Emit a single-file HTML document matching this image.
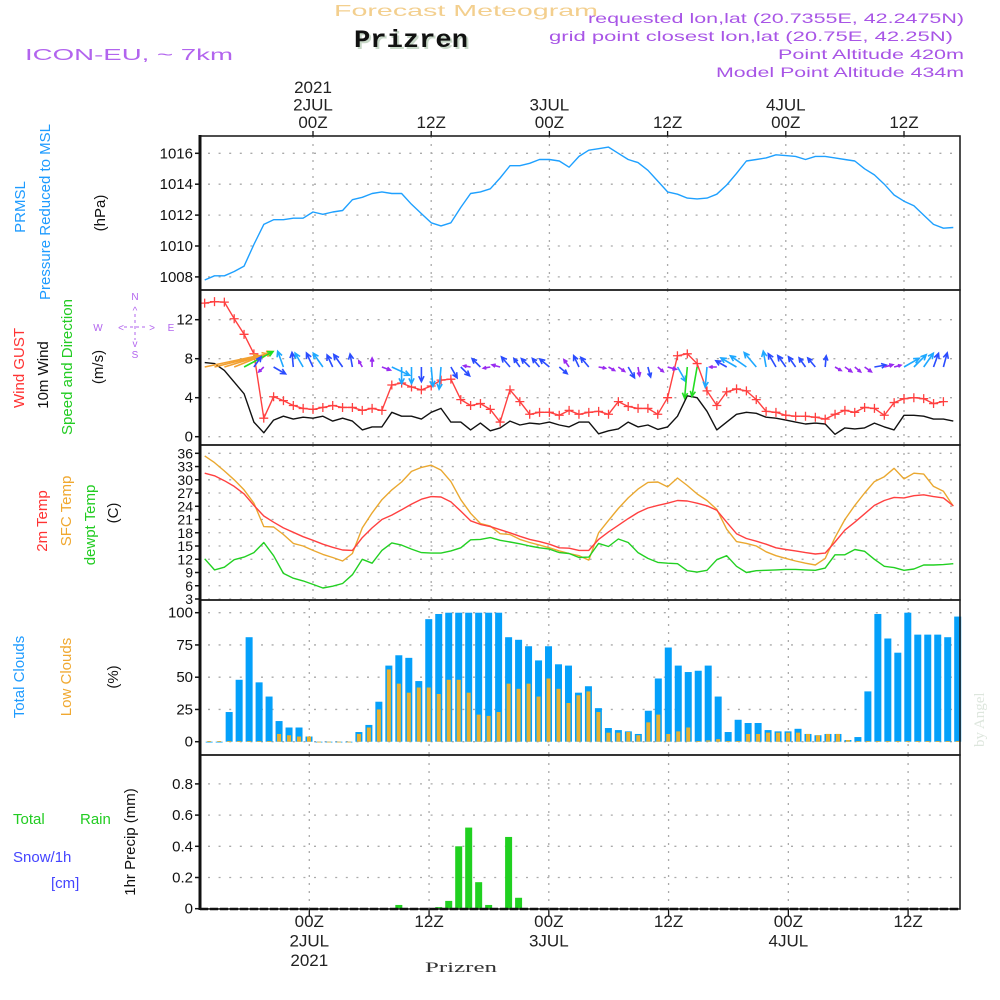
<!DOCTYPE html>
<html><head><meta charset="utf-8"><style>
html,body{margin:0;padding:0;background:#fff;}
svg{display:block;font-family:"Liberation Sans",sans-serif;}
</style></head><body>
<svg id="chart" xmlns="http://www.w3.org/2000/svg" width="1000" height="1000" viewBox="0 0 1000 1000">
<rect width="1000" height="1000" fill="#fff"/>
<text x="334" y="16" fill="#f3cf8e" font-size="16" textLength="264" lengthAdjust="spacingAndGlyphs">Forecast Meteogram</text>
<text x="356" y="49" fill="#c8d8c8" font-size="25" font-weight="bold" font-family="Liberation Mono, monospace" textLength="114" lengthAdjust="spacingAndGlyphs">Prizren</text>
<text x="354" y="47" fill="#111" font-size="25" font-weight="bold" font-family="Liberation Mono, monospace" textLength="114" lengthAdjust="spacingAndGlyphs">Prizren</text>
<text x="25" y="60" fill="#b264ee" font-size="16" textLength="208" lengthAdjust="spacingAndGlyphs">ICON-EU, ~ 7km</text>
<g fill="#a855e6" font-size="14">
<text x="588" y="23" textLength="376" lengthAdjust="spacingAndGlyphs">requested lon,lat (20.7355E, 42.2475N)</text>
<text x="549" y="41" textLength="404" lengthAdjust="spacingAndGlyphs">grid point closest lon,lat (20.75E, 42.25N)</text>
<text x="778" y="59" textLength="186" lengthAdjust="spacingAndGlyphs">Point Altitude 420m</text>
<text x="716" y="77" textLength="248" lengthAdjust="spacingAndGlyphs">Model Point Altitude 434m</text>
</g>
<text x="425" y="972" font-family="Liberation Serif, serif" font-size="15" fill="#333" textLength="72" lengthAdjust="spacingAndGlyphs">Prizren</text>
<text transform="translate(984,747) rotate(-90)" font-family="Liberation Serif, serif" font-size="15" fill="#dde6dd">by Angel</text>
<g font-size="15" text-anchor="middle">
<text transform="translate(25,207) rotate(-90)" fill="#1e9bff">PRMSL</text>
<text transform="translate(50,212) rotate(-90)" fill="#1e9bff">Pressure Reduced to MSL</text>
<text transform="translate(105,213) rotate(-90)" fill="#111">(hPa)</text>
<text transform="translate(24,368) rotate(-90)" fill="#ff3333">Wind GUST</text>
<text transform="translate(48,375) rotate(-90)" fill="#111">10m Wind</text>
<text transform="translate(72,367) rotate(-90)" fill="#22cc22">Speed and Direction</text>
<text transform="translate(103,367) rotate(-90)" fill="#111">(m/s)</text>
<text transform="translate(47,521) rotate(-90)" fill="#ff3333">2m Temp</text>
<text transform="translate(71,511) rotate(-90)" fill="#f0a830">SFC Temp</text>
<text transform="translate(95,525) rotate(-90)" fill="#22cc22">dewpt Temp</text>
<text transform="translate(118,513) rotate(-90)" fill="#111">(C)</text>
<text transform="translate(24,677) rotate(-90)" fill="#1e9bff">Total Clouds</text>
<text transform="translate(71,677) rotate(-90)" fill="#f0a830">Low Clouds</text>
<text transform="translate(118,677) rotate(-90)" fill="#111">(%)</text>
<text transform="translate(135,842) rotate(-90)" fill="#111">1hr Precip (mm)</text>
</g>
<g font-size="15">
<text x="13" y="824" fill="#22cc22">Total</text>
<text x="80" y="824" fill="#22cc22">Rain</text>
<text x="13" y="862" fill="#4444ff">Snow/1h</text>
<text x="51" y="888" fill="#4444ff">[cm]</text>
</g>
<g fill="#b264ee" stroke="#b264ee" font-size="10" text-anchor="middle">
<text x="135" y="300" stroke="none">N</text>
<text x="135" y="358" stroke="none">S</text>
<text x="98" y="331" stroke="none">W</text>
<text x="171" y="331" stroke="none">E</text>
<text x="121" y="331" stroke="none">&lt;</text>
<text x="152" y="331" stroke="none">&gt;</text>
<text x="135" y="314" stroke="none">^</text>
<text x="135" y="347" stroke="none">v</text>
<line x1="124" y1="327" x2="148" y2="327" stroke-dasharray="3,3"/>
<line x1="135" y1="314" x2="135" y2="340" stroke-dasharray="3,3"/>
</g>
<g id="plot"></g>
</svg>
<script>
const timeLabels = ["00Z","12Z","00Z","12Z","00Z","12Z"];
const dayLabels = ["2JUL","","3JUL","","4JUL",""];
const pressureTicks = [1008,1010,1012,1014,1016];
const windTicks = [0,4,8,12];
const tempTicks = [3,6,9,12,15,18,21,24,27,30,33,36];
const cloudTicks = [0,25,50,75,100];
const precipTicks = [0,0.2,0.4,0.6,0.8];
const pressure = [1007.8,1008.07,1008.07,1008.35,1008.7,1010.1,1011.4,1011.7,1011.7,1011.8,1011.8,1012.2,1012.05,1012.2,1012.3,1013.0,1013.15,1013.4,1013.5,1013.4,1013.4,1012.7,1012.1,1011.5,1011.3,1011.5,1012.5,1013.4,1013.5,1013.7,1014.4,1015.2,1015.2,1015.35,1015.6,1015.6,1015.5,1015.1,1015.8,1016.2,1016.3,1016.4,1016.0,1015.6,1015.4,1014.9,1014.2,1013.5,1013.35,1013.1,1013.05,1013.1,1013.35,1013.95,1014.7,1015.5,1015.6,1015.7,1015.9,1015.85,1015.8,1015.6,1015.8,1015.8,1015.7,1015.6,1015.5,1015.0,1014.6,1014.0,1013.3,1012.9,1012.6,1012.0,1011.4,1011.15,1011.2];
const windGust = [13.7,13.85,13.8,12.1,10.5,8.5,1.9,4.1,3.7,3.2,2.9,2.8,3.0,3.2,3.0,3.0,2.7,2.9,2.7,5.3,5.5,5.1,4.8,5.2,5.8,5.9,3.8,3.2,3.4,2.8,1.5,4.8,3.6,2.3,2.5,2.5,2.2,2.7,2.3,2.5,2.6,2.3,3.6,3.1,2.9,2.9,2.3,4.0,8.3,8.5,7.5,4.7,3.2,4.6,4.9,4.7,3.8,2.6,2.5,2.2,2.1,2.1,2.0,1.8,2.3,2.7,2.5,3.0,2.9,2.2,3.5,3.9,4.0,3.9,3.4,3.6];
const windSpeed = [7.6,7.5,6.8,5.6,4.4,1.5,0.4,1.7,2.1,1.8,2.0,1.9,2.1,1.6,1.9,1.6,0.7,1.0,1.0,2.5,2.1,2.1,1.8,2.5,2.9,1.5,1.5,0.7,1.4,0.6,0.9,1.6,1.2,1.4,1.3,1.5,1.2,1.0,1.5,1.5,0.3,0.6,0.8,1.5,1.0,1.2,0.75,1.0,2.1,4.2,4.0,2.6,0.7,1.5,2.3,2.5,2.4,2.0,1.9,1.7,1.5,1.3,1.4,1.3,0.25,0.9,0.8,0.9,1.4,1.0,0.7,2.2,2.2,2.1,1.8,1.8,1.6];
const windDir = [12,14,17,22,28,55,225,-30,110,95,120,115,125,115,125,100,120,90,-20,-25,-90,-90,-90,-85,-95,-60,-45,170,135,190,165,130,125,135,130,140,-40,125,115,130,-10,-30,-35,-60,-80,-75,-40,-15,-60,-95,-100,-95,180,150,150,145,130,100,120,125,125,125,130,85,-30,-35,-40,-35,10,15,15,30,45,55,70,75,10];
const temp2m = [31.5,30.9,29.8,28.5,26.8,24.2,21.8,20.4,19.1,18.1,17.1,16.3,15.4,14.7,14.1,14.0,16.9,19.1,21.0,22.0,23.2,24.5,25.6,26.2,26.1,25.0,22.9,20.7,19.9,19.4,18.7,18.0,17.2,16.5,16.0,15.4,14.6,14.5,14.0,14.0,16.5,18.2,19.7,21.2,22.6,23.6,24.2,24.7,25.3,25.2,24.7,24.1,23.1,20.4,17.8,16.7,16.1,15.4,14.6,14.2,13.9,13.5,13.2,13.4,15.9,18.6,20.4,22.3,24.2,25.3,26.0,25.9,26.4,26.6,26.2,25.9,24.1];
const tempSfc = [35.4,33.9,32.0,30.0,27.7,24.7,19.4,19.3,17.6,15.6,15.0,14.0,13.1,12.4,11.6,13.3,19.1,22.5,25.5,27.7,29.5,31.9,32.8,33.3,32.2,29.6,25.5,22.4,20.1,19.5,17.8,17.6,16.5,15.8,15.2,14.6,13.9,13.3,12.8,11.8,18.0,20.8,23.5,25.9,27.9,29.4,29.5,28.4,30.4,28.7,26.8,25.3,23.3,18.8,16.0,15.6,15.0,13.7,12.8,12.2,11.6,11.1,10.7,12.2,16.9,21.0,24.2,27.0,29.6,30.7,32.6,30.2,31.5,31.3,28.5,27.4,24.0];
const tempDew = [12.1,9.6,10.2,11.9,12.5,13.5,15.8,12.8,8.8,7.7,7.1,6.3,5.5,5.9,6.5,8.5,12.0,11.1,14.0,15.7,15.2,14.3,13.5,13.4,13.4,13.9,14.6,16.4,16.5,16.9,16.3,15.9,15.5,15.0,14.6,14.3,13.5,13.3,12.4,12.5,15.6,14.9,16.6,15.8,13.5,12.2,11.3,11.1,11.0,9.4,9.1,9.5,11.9,12.8,10.4,9.0,9.4,9.5,9.6,9.7,9.7,9.6,9.5,10.0,13.0,13.0,14.2,13.8,12.0,10.4,10.1,9.5,9.8,10.7,10.7,10.8,11.0];
const totalClouds = [0,0,23,48,81,46,35,16,11,11,4,0,0,0,0,7.5,13,31,59,67,65,47,95,99,100,100,100,100,100,100,81,79,74,63,74,60,59,38,43,26,10.6,9,8,6,24,49,73,59,54,55,59,35,7.5,17,14.5,14.5,9,8,8,10,6,5,6,6,1.3,3.6,39,99,80,69,100,83,83,83,81,97];
const lowClouds = [0.5,0.5,0.5,0.5,0.5,0.5,0.5,6,5,4,4,0,0,0,0,6,11,25,56,45,38,42,42,37,48,48,38,21,20,23,45,41,45,35,49,41,30,36,39,23,7,7,7.5,5,15,21,6,8,11,0.5,1,2,0.5,0.5,6,6,7,7,7,7,6,5,6,6,1.3,0.5,0.5,0.5,0.5,0.5,0.5,0.5,0.5,0.5,0.5,0.5];
const precipHours = [9,13,14,15,16,17,18,20,21];
const precipValues = [0.024,0.01,0.05,0.40,0.52,0.17,0.024,0.46,0.07];

const L=200,R=960;
const xTop = t => 313 + t*9.85;
const xBot = t => 309.3 + t*9.98;
const yP = v => 153.3 + (1016-v)*15.45;
const yW = v => 436.7 - v*9.75;
const yT = v => 453.3 + (36-v)*4.415;
const yC = v => 741.7 - v*1.29;
const yR = v => 908.7 - v*156;
const panels = [[136,290],[290,445],[445,600],[600,755],[755,909]];
const NS="http://www.w3.org/2000/svg";
const plot=document.getElementById('plot');
function mk(tag,attrs,parent){const e=document.createElementNS(NS,tag);for(const k in attrs)e.setAttribute(k,attrs[k]);(parent||plot).appendChild(e);return e;}
function clipX(x){return Math.max(L,Math.min(R,x));}

panels.forEach((p,pi)=>{
  const xs = pi<3?xTop:xBot;
  for(let k=0;k<6;k++){
    const x=xs(k*12);
    const g=mk('line',{x1:x,y1:p[0],x2:x,y2:p[1],stroke:'#aaa','stroke-width':1.3,'stroke-dasharray':'2,6'});
    
    
  }
});
function hgrid(ticks,yf,labelFmt,fs){
  ticks.forEach(v=>{
    const y=yf(v);
    const g=mk('line',{x1:L+8,y1:y,x2:R,y2:y,stroke:'#aaa','stroke-width':1.3,'stroke-dasharray':'2,8.6'});
    
    
    mk('line',{x1:L-5,y1:y,x2:L,y2:y,stroke:'#111','stroke-width':1.5});
    const t=mk('text',{x:L-7,y:y+5,'text-anchor':'end','font-size':fs||15,fill:'#111'});
    t.textContent=labelFmt?labelFmt(v):v;
    
    
  });
}
hgrid(pressureTicks,yP);
hgrid(windTicks,yW);
hgrid(tempTicks,yT,null,14);
hgrid(cloudTicks,yC);
hgrid(precipTicks,yR,v=>v===0?'0':String(v));

totalClouds.forEach((v,i)=>{
  const x=xBot(-10+i)-0.3;
  const b=mk('rect',{x:x-3.5,y:yC(v),width:7,height:Math.max(0.8,yC(0)-yC(v)),fill:'#04a0fa'});
  
  
});
lowClouds.forEach((v,i)=>{
  const x=xBot(-10+i)-0.3;
  const b=mk('rect',{x:x-2,y:yC(v),width:4,height:Math.max(0.8,yC(0)-yC(v)),fill:'#e8b030'});
  
  
});
precipHours.forEach((h,i)=>{
  const x=xBot(h)-0.3;
  const b=mk('rect',{x:x-3.5,y:yR(precipValues[i]),width:7,height:yR(0)-yR(precipValues[i]),fill:'#20d020'});
  
  
});

function line(arr,t0,yf,color,name,w){
  const pts=arr.map((v,i)=>clipX(xTop(t0+i)).toFixed(1)+','+yf(v).toFixed(1)).join(' ');
  const p=mk('polyline',{points:pts,fill:'none',stroke:color,'stroke-width':w||1.4,'stroke-linejoin':'round'});
  
  
}
line(pressure,-11,yP,'#1ea0ff','pressure-line');
line(windSpeed,-11,yW,'#111','wind-speed-line');
line(windGust,-11,yW,'#ff4040','wind-gust-line');
windGust.forEach((v,i)=>{
  const x=xTop(-11+i);if(x<L||x>R)return;const y=yW(v);
  const c=mk('path',{d:`M${x-4.5},${y}H${x+4.5}M${x},${y-4.5}V${y+4.5}`,stroke:'#ff4040','stroke-width':1.3});
  
  
});
windDir.forEach((d,i)=>{
  const s=windSpeed[i];const x0=xTop(-11+i);const y0=367;
  const col = s<1.2?'#9a2cf0':s<2.0?'#2a4cff':s<3.5?'#1ea8ff':s<5?'#22dd22':'#f2a030';
  const len = Math.max(7,s*7+2);
  const a=d*Math.PI/180;
  const x1=x0+Math.cos(a)*len, y1=y0-Math.sin(a)*len;
  if(x1>R-1||x0>R-1)return;
  const h=Math.min(6,len*0.45);
  const a1=a+Math.PI-0.45,a2=a+Math.PI+0.45;
  const p=`M${x0.toFixed(1)},${y0}L${x1.toFixed(1)},${y1.toFixed(1)}M${(x1+Math.cos(a1)*h).toFixed(1)},${(y1-Math.sin(a1)*h).toFixed(1)}L${x1.toFixed(1)},${y1.toFixed(1)}L${(x1+Math.cos(a2)*h).toFixed(1)},${(y1-Math.sin(a2)*h).toFixed(1)}`;
  const e=mk('path',{d:p,stroke:col,'stroke-width':1.6,fill:'none'});
  
  
});
line(tempSfc,-11,yT,'#eaa830','sfc-temp-line');
line(temp2m,-11,yT,'#ff4040','temp-2m-line');
line(tempDew,-11,yT,'#22d022','dewpoint-line');

panels.forEach((p,pi)=>{
  const r=mk('rect',{x:L,y:p[0],width:R-L,height:p[1]-p[0],fill:'none',stroke:'#222','stroke-width':1.6});
  
  
});
mk('line',{x1:L,y1:135,x2:L,y2:910,stroke:'#111','stroke-width':3});
mk('line',{x1:L,y1:909,x2:R,y2:909,stroke:'#111','stroke-width':2.5,'stroke-dasharray':'8,2'});
for(let k=0;k<6;k++){
  const xt=xTop(k*12), xb=xBot(k*12);
  mk('line',{x1:xt,y1:131,x2:xt,y2:136,stroke:'#111','stroke-width':1.3});
  mk('line',{x1:xb,y1:909,x2:xb,y2:916,stroke:'#111','stroke-width':1.3});
  const lines=[timeLabels[k]];
  if(dayLabels[k])lines.unshift(dayLabels[k]);
  if(k===0)lines.unshift('2021');
  lines.forEach((s,j)=>{
    const t=mk('text',{x:xt,y:128-(lines.length-1-j)*17.5,'text-anchor':'middle','font-size':17,fill:'#222'});
    t.textContent=s;
    
    
  });
  lines.slice().reverse().forEach((s,j)=>{
    const t=mk('text',{x:xb,y:927+j*19.5,'text-anchor':'middle','font-size':17,fill:'#222'});
    t.textContent=s;
    
    
  });
}
</script>
</body></html>
